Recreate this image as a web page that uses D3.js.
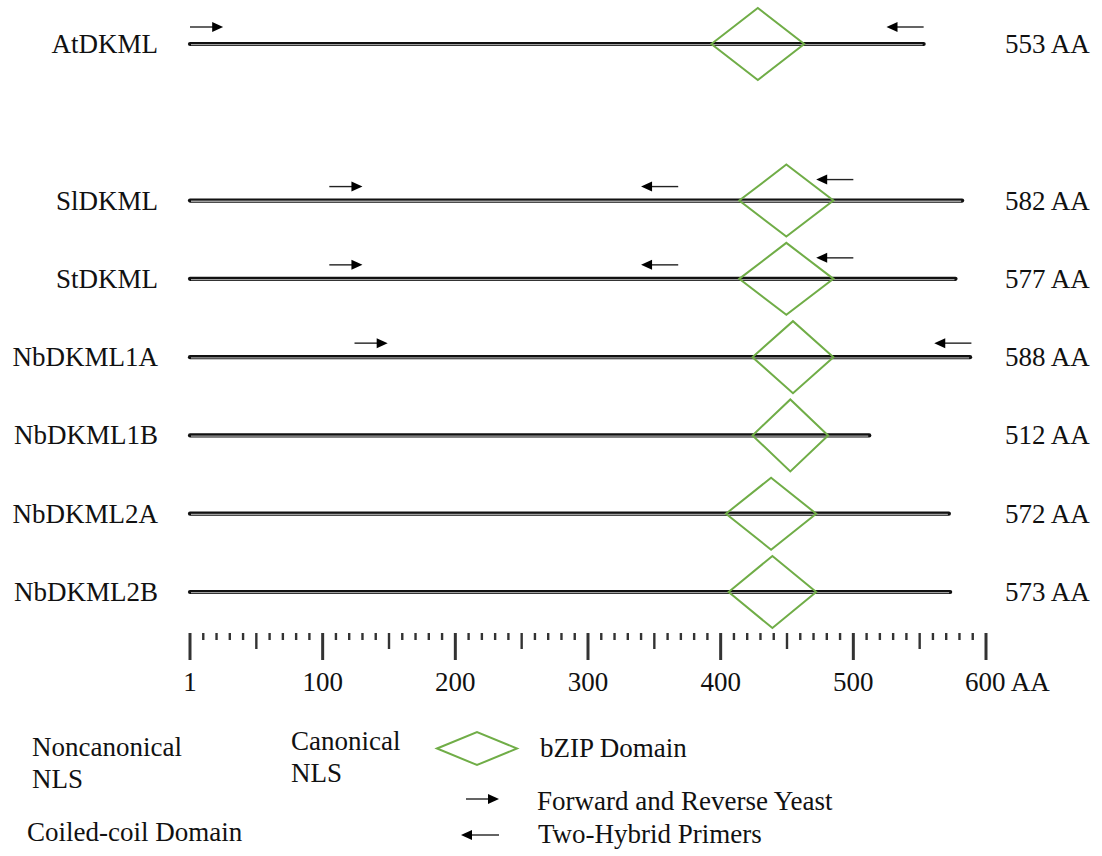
<!DOCTYPE html>
<html><head><meta charset="utf-8">
<script src="https://cdn.jsdelivr.net/npm/d3@7"></script>
<style>
body{margin:0;background:#fff}
text{font-family:"Liberation Serif","Times New Roman",serif;font-size:27px;fill:#111}
</style>
</head><body><svg id="c" width="1102" height="856"></svg>
<script>
// ---- data ----
const proteins = ["AtDKML","SlDKML","StDKML","NbDKML1A","NbDKML1B","NbDKML2A","NbDKML2B"];
const lengths = [553,582,577,588,512,572,573];
const bzipStart = [393,414,414,424,424,404,406];
const bzipEnd = [463,485,485,485,481,472,472];
// protein, direction, tail AA, tip AA
const primers = [
  ["AtDKML","fwd",0,25],["AtDKML","rev",553,525],
  ["SlDKML","fwd",105,130],["SlDKML","rev",368,340],["SlDKML","rev",500,472],
  ["StDKML","fwd",105,130],["StDKML","rev",368,340],["StDKML","rev",500,472],
  ["NbDKML1A","fwd",124,149],["NbDKML1A","rev",589,561]
];
const scaleLabels = [1,100,200,300,400,500,600];
const scaleUnit = "AA";

// ---- layout ----
const svg = d3.select("#c");
const green = "#70AD47";
const x = d3.scaleLinear().domain([0,600]).range([190,986]);
const slots = proteins.map((p,i)=> i===0 ? 0 : i+1);
const y = d3.scaleLinear().domain([0,7]).range([44,592]);

proteins.forEach((p,i)=>{
  const yy = y(slots[i]);
  const g = svg.append("g");
  g.append("line").attr("x1",x(0)).attr("x2",x(lengths[i])).attr("y1",yy).attr("y2",yy)
    .attr("stroke","#111").attr("stroke-width",4.2).attr("stroke-linecap","round");
  g.append("line").attr("x1",x(0)+1).attr("x2",x(lengths[i])-1).attr("y1",yy+0.7).attr("y2",yy+0.7)
    .attr("stroke","#a0a0a0").attr("stroke-width",1.3);
  const s = x(bzipStart[i]), e = x(bzipEnd[i]), m = (s+e)/2;
  g.append("polygon").attr("points",[[s,yy],[m,yy-36],[e,yy],[m,yy+36]].map(q=>q.join(",")).join(" "))
    .attr("fill","none").attr("stroke",green).attr("stroke-width",2);
  g.append("text").attr("x",158).attr("y",yy+9).attr("text-anchor","end").text(p);
  g.append("text").attr("x",1005).attr("y",yy+9).text(lengths[i]+" AA");
});

function arrow(g, x1, x2, yy){
  const dir = x2 > x1 ? 1 : -1;
  g.append("line").attr("x1",x1).attr("x2",x2-dir*8).attr("y1",yy).attr("y2",yy)
    .attr("stroke","#222").attr("stroke-width",1.4);
  g.append("polygon").attr("points",[[x2,yy],[x2-dir*11,yy-5],[x2-dir*11,yy+5]].map(q=>q.join(",")).join(" "))
    .attr("fill","#000");
}
const pg = svg.append("g");
primers.forEach(([p,dir,a,b])=>{
  const i = proteins.indexOf(p);
  const yy = y(slots[i]);
  const nearDomain = Math.min(a,b) <= bzipEnd[i]+20 && Math.max(a,b) >= bzipStart[i];
  const lift = nearDomain ? 21 : (i===0 ? 17 : 14);
  arrow(pg, x(a), x(b), yy - lift);
});

// ---- scale bar ----
const sb = svg.append("g");
const tickTop = 633;
d3.range(0,601,10).forEach(v=>{
  const major = v % 100 === 0, mid = !major && v % 50 === 0;
  sb.append("line").attr("x1",x(v)).attr("x2",x(v)).attr("y1",tickTop)
    .attr("y2", major ? 660 : (mid ? 649 : 640))
    .attr("stroke","#333").attr("stroke-width", major ? 3 : 2.4);
});
scaleLabels.forEach(v=>{
  const t = sb.append("text").attr("y",691);
  if (v === 600) {
    t.attr("x", x(v) - 21).text(v + " " + scaleUnit);
  } else {
    t.attr("x", x(v===1?0:v)).attr("text-anchor","middle").text(v);
  }
});

// ---- legend ----
const lg = svg.append("g");
lg.append("text").attr("x",32).attr("y",756).text("Noncanonical");
lg.append("text").attr("x",32).attr("y",788).text("NLS");
lg.append("text").attr("x",27).attr("y",841).text("Coiled-coil Domain");
lg.append("text").attr("x",291).attr("y",750).text("Canonical");
lg.append("text").attr("x",291).attr("y",782).text("NLS");
lg.append("polygon").attr("points",[[437,748.5],[477,732],[517,748.5],[477,765]].map(q=>q.join(",")).join(" "))
  .attr("fill","none").attr("stroke",green).attr("stroke-width",2);
lg.append("text").attr("x",540).attr("y",757).text("bZIP Domain");
arrow(lg, 466, 499, 799);
arrow(lg, 499, 461, 835);
lg.append("text").attr("x",537).attr("y",810).text("Forward and Reverse Yeast");
lg.append("text").attr("x",538).attr("y",843).text("Two-Hybrid Primers");
</script>
</body></html>
